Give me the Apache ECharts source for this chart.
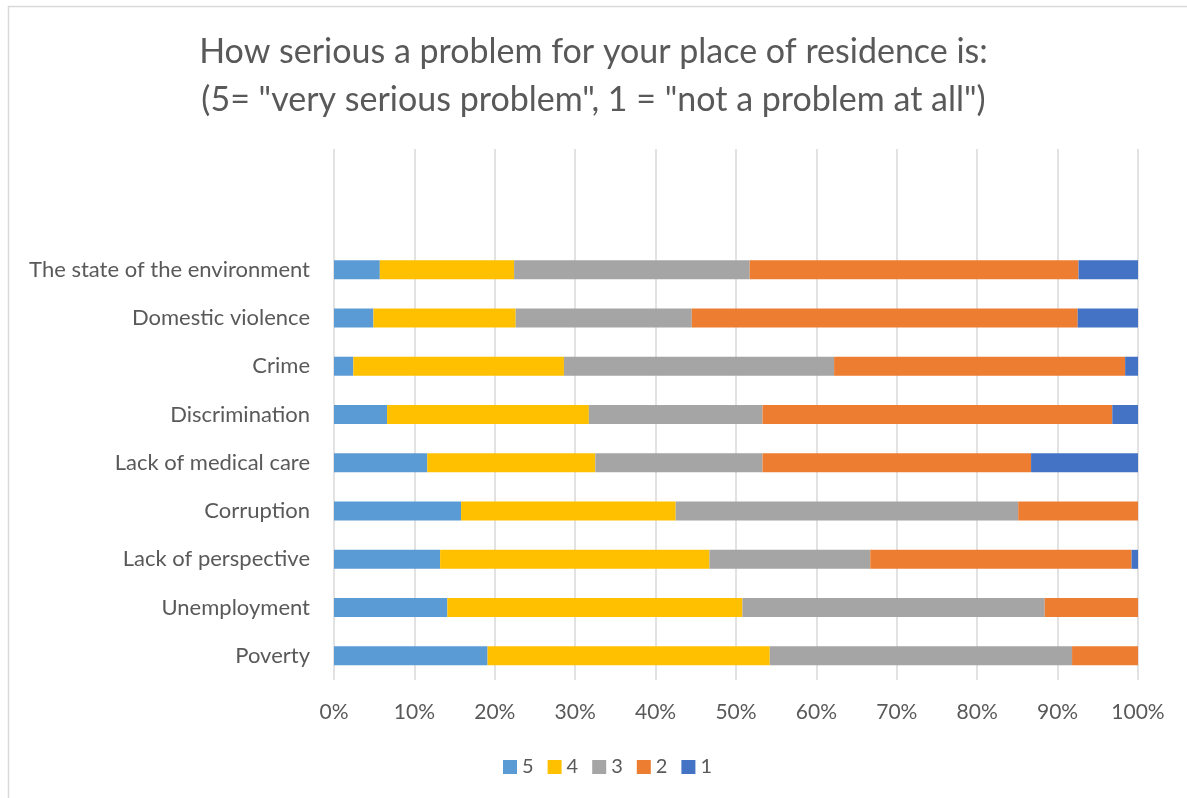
<!DOCTYPE html>
<html>
<head>
<meta charset="utf-8">
<script src="https://cdn.jsdelivr.net/npm/echarts@6/dist/echarts.min.js"></script>
<style>
  html, body { margin: 0; padding: 0; background: #fff; }
  #chart { width: 1187px; height: 798px; }
</style>
</head>
<body>
<div id="chart"></div>
<script>
// Problems, listed bottom to top as drawn on the category axis
const categories = [
  'Poverty',
  'Unemployment',
  'Lack of perspective',
  'Corruption',
  'Lack of medical care',
  'Discrimination',
  'Crime',
  'Domestic violence',
  'The state of the environment'
];

// Share of answers (%) per rating, same order as categories
const rating5 = [19.1, 14.1, 13.2, 15.8, 11.6, 6.6, 2.4, 4.9, 5.7];
const rating4 = [35.1, 36.7, 33.5, 26.7, 20.9, 25.1, 26.2, 17.7, 16.7];
const rating3 = [37.6, 37.6, 20.0, 42.6, 20.8, 21.6, 33.6, 21.9, 29.3];
const rating2 = [8.2, 11.6, 32.5, 14.9, 33.4, 43.5, 36.2, 48.0, 40.9];
const rating1 = [0, 0, 0.8, 0, 13.3, 3.2, 1.6, 7.5, 7.4];

const seriesNames = ['5', '4', '3', '2', '1'];
const seriesData = [rating5, rating4, rating3, rating2, rating1];
const colors = ['#5B9BD5', '#FFC000', '#A5A5A5', '#ED7D31', '#4472C4'];

const xTicks = [0, 10, 20, 30, 40, 50, 60, 70, 80, 90, 100];

const fontFamily = 'Lato, "Open Sans", sans-serif';
const textColor = '#595959';

const chart = echarts.init(document.getElementById('chart'), null, { renderer: 'canvas' });

chart.setOption({
  animation: false,
  backgroundColor: '#fff',
  color: colors,
  textStyle: { fontFamily },
  graphic: [
    {
      type: 'polyline',
      shape: { points: [[8.5, 798], [8.5, 6.5], [1187, 6.5]] },
      style: { stroke: '#D9D9D9', lineWidth: 1.5, fill: null },
      silent: true
    }
  ],
  title: {
    text: 'How serious a problem for your place of residence is:\n(5= "very serious problem", 1 = "not a problem at all")',
    left: 'center',
    top: 23,
    textStyle: {
      fontFamily,
      fontSize: 34,
      fontWeight: 'normal',
      color: textColor,
      lineHeight: 48
    }
  },
  legend: {
    bottom: 16,
    left: 498,
    itemWidth: 14,
    itemHeight: 14,
    itemGap: 14,
    icon: 'rect',
    textStyle: { fontFamily, fontSize: 20, color: textColor },
    data: seriesNames
  },
  grid: {
    left: 334,
    right: 49,
    top: 149,
    bottom: 118,
    containLabel: false
  },
  xAxis: {
    type: 'value',
    min: 0,
    max: 100,
    interval: 10,
    axisLine: { show: false },
    axisTick: { show: false },
    splitLine: { show: true, lineStyle: { color: '#D9D9D9', width: 1.5 } },
    axisLabel: {
      color: textColor,
      fontSize: 21,
      margin: 22,
      formatter: v => (xTicks.includes(v) ? v + '%' : '')
    }
  },
  yAxis: {
    type: 'category',
    data: categories,
    max: categories.length + 1,
    axisLine: { show: false },
    axisTick: { show: false },
    splitLine: { show: false },
    axisLabel: {
      color: textColor,
      fontSize: 22,
      margin: 24,
      formatter: v => (categories.includes(v) ? v : '')
    }
  },
  series: seriesNames.map((name, i) => ({
    name,
    type: 'bar',
    stack: 'total',
    barWidth: 19,
    data: seriesData[i],
    itemStyle: { color: colors[i] }
  }))
});
</script>
</body>
</html>
